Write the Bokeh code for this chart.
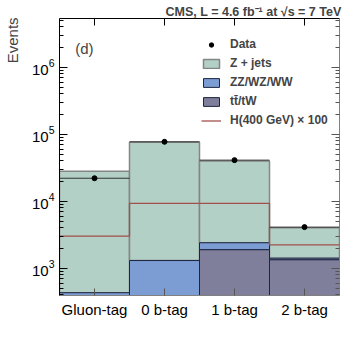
import numpy as np
from bokeh.plotting import figure
from bokeh.models import (Range1d, LinearAxis, LogAxis, FixedTicker, Label,
                          Legend, LegendItem)
from bokeh.embed import file_html
from bokeh.resources import INLINE

# ---- data ----
categories = ["Gluon-tag", "0 b-tag", "1 b-tag", "2 b-tag"]
zjets = [27570, 74500, 37500, 2600]
dibosons = [280, 1000, 510, 75]
ttbar = [150, 300, 1885, 1335]
higgs_x100 = [3000, 9300, 9250, 2235]
data = [22000, 77000, 41000, 4100]

FONT = "Liberation Sans"
C_Z = "#b2d0c6"
C_ZZ = "#7b9dd3"
C_TT = "#7f7e9b"
C_H = "#a3504c"

n = len(categories)
left = np.arange(n, dtype=float)
right = left + 1
centers = left + 0.5
tt_top = np.array(ttbar, dtype=float)
zz_top = tt_top + np.array(dibosons, dtype=float)
total = zz_top + np.array(zjets, dtype=float)

p = figure(width=349, height=339, y_axis_type="log",
           x_range=Range1d(0, n), y_range=Range1d(391, 5.33e6),
           output_backend="svg", toolbar_location=None,
           min_border_left=54, min_border_right=10,
           min_border_top=18, min_border_bottom=44,
           title="CMS, L = 4.6 fb\u207b\u00b9 at \u221as = 7 TeV")
p.grid.visible = False
p.outline_line_color = None
p.background_fill_color = "white"
p.title.align = "right"
p.title.text_font = FONT
p.title.text_font_size = "12.5px"
p.title.text_font_style = "bold"
p.title.standoff = 0
p.title.offset = -2

q_z = p.quad(left=left, right=right, bottom=zz_top, top=total,
             fill_color=C_Z, line_color="#858585", line_width=1.5)
q_zz = p.quad(left=left, right=right, bottom=tt_top, top=zz_top,
              fill_color=C_ZZ, line_color="#1e2540", line_width=1)
q_tt = p.quad(left=left, right=right, bottom=1, top=tt_top,
              fill_color=C_TT, line_color="#1e2540", line_width=1)

# Higgs step line
hx = np.repeat(np.arange(n + 1, dtype=float), 2)[1:-1]
hy = np.repeat(np.array(higgs_x100, dtype=float), 2)
h_line = p.line(hx, hy, line_color=C_H, line_width=1.3)

# data
p.segment(x0=left, y0=data, x1=right, y1=data, line_color="#333333", line_width=1)
d_pts = p.scatter(centers, data, size=5, color="black")

# ---- axes ----
xt = FixedTicker(ticks=list(centers), minor_ticks=[])
yt = FixedTicker(ticks=[1e3, 1e4, 1e5, 1e6],
                 minor_ticks=[m * 10.0 ** e for e in range(2, 7) for m in range(2, 10)])

xa = p.xaxis[0]
xa.ticker = xt
xa.major_label_overrides = {float(c): s for c, s in zip(centers, categories)}
ya = p.yaxis[0]
ya.ticker = yt
# leading no-break spaces push the centred label to the top of the axis
ya.axis_label = "\u00a0" * 56 + "Events"
ya.axis_label_orientation = "vertical"
ya.axis_label_text_font = FONT
ya.axis_label_text_font_size = "15px"
ya.axis_label_text_font_style = "normal"
ya.axis_label_standoff = 8

for ax in (xa, ya):
    ax.major_label_text_font = FONT
    ax.major_label_text_font_size = "15px"
    ax.major_label_text_color = "black"
    ax.major_tick_out = 0
    ax.minor_tick_out = 0
    ax.major_label_standoff = 5
xa.major_tick_in = 7
xa.minor_tick_in = 0
ya.major_tick_in = 8
ya.minor_tick_in = 4
xa.axis_line_color = "#808080"
xa.major_tick_line_color = "#555555"
ya.axis_line_color = "black"

top_ax = LinearAxis(ticker=xt, major_label_text_font_size="1px", major_label_text_alpha=0,
                    major_tick_in=7, major_tick_out=0, minor_tick_in=0, minor_tick_out=0,
                    major_label_standoff=0, axis_line_color="black")
right_ax = LogAxis(ticker=yt, major_label_text_font_size="1px", major_label_text_alpha=0,
                   major_tick_in=8, major_tick_out=0, minor_tick_in=4, minor_tick_out=0,
                   major_label_standoff=0, axis_line_color="#808080",
                   major_tick_line_color="#555555", minor_tick_line_color="#555555")
p.add_layout(top_ax, "above")
p.add_layout(right_ax, "right")

# ---- texts ----
p.add_layout(Label(x=0.225, y=1.9e6, text="(d)", text_baseline="alphabetic",
                   text_font=FONT, text_font_size="15px"))

# ---- legend ----
legend = Legend(items=[
    LegendItem(label="Data", renderers=[d_pts]),
    LegendItem(label="Z + jets", renderers=[q_z]),
    LegendItem(label="ZZ/WZ/WW", renderers=[q_zz]),
    LegendItem(label="t\u0074\u0304/tW", renderers=[q_tt]),
    LegendItem(label="H(400 GeV) \u00d7 100", renderers=[h_line]),
], location=(142, 168), border_line_color=None, background_fill_alpha=0,
   label_text_font=FONT, label_text_font_style="bold", label_text_font_size="12px",
   glyph_width=20, glyph_height=11, label_standoff=9, spacing=5, padding=0, margin=0)
p.add_layout(legend)

open("out.html", "w").write(file_html(p, INLINE))
